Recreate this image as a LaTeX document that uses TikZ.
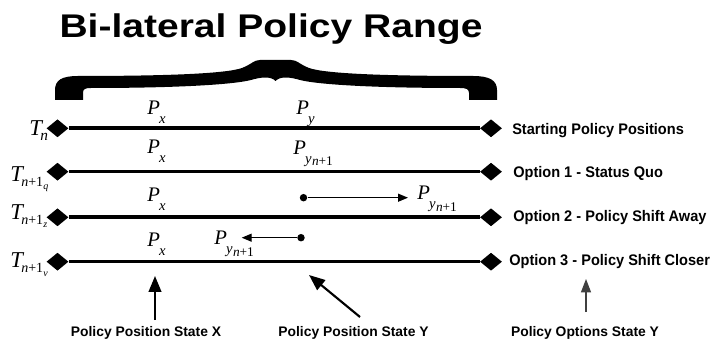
\documentclass[tikz,border=0pt]{standalone}
\usepackage{fontspec}
\setmainfont{Liberation Serif}
\newfontfamily\titlefont[FakeStretch=1.19]{Liberation Sans}
\newfontfamily\labfont[FakeStretch=0.95]{Liberation Sans}
\newfontfamily\botfont{Liberation Sans}
\usetikzlibrary{shapes.geometric,arrows.meta}
% subscript helpers
\newcommand\psb[1]{\kern-0.6pt\raisebox{-6.5pt}{\fontsize{11}{12}\selectfont\itshape #1}}
\newcommand\pyn{\kern-0.6pt\raisebox{-6.5pt}{\fontsize{11}{12}\selectfont\itshape y\kern0.3pt\raisebox{-2pt}{\fontsize{10}{11}\selectfont n\upshape+1}}}
\newcommand\tsb[1]{\kern-1.2pt\raisebox{-3.5pt}{\fontsize{11.5}{12}\selectfont\itshape #1}}
\newcommand\tsbb[1]{\kern-1.2pt\raisebox{-3.5pt}{\fontsize{10.5}{12}\selectfont\itshape n\upshape+1\kern0.2pt\raisebox{-2.5pt}{\fontsize{7.5}{8}\selectfont\itshape #1}}}
\begin{document}
\begin{tikzpicture}[x=0.75pt,y=-0.75pt,
  dia/.style={diamond,fill=black,inner sep=0pt,minimum width=16.5pt,minimum height=13.5pt},
  bar/.style={line width=2.7pt},
  tlab/.style={anchor=base west,inner sep=0pt,font=\fontsize{17}{20}\selectfont\itshape},
  plab/.style={anchor=base west,inner sep=0pt,font=\fontsize{15.5}{18}\selectfont\itshape},
  rlab/.style={anchor=base west,inner sep=0pt,font=\labfont\bfseries\fontsize{11.5}{13}\selectfont},
  blab/.style={anchor=base,inner sep=0pt,font=\botfont\bfseries\fontsize{10.4}{12}\selectfont},
  pdot/.style={circle,fill=black,inner sep=0pt,minimum size=5.6pt},
  movearrow/.style={line width=0.9pt,-{Triangle[length=7.5pt,width=6pt]}},
  bigarrow/.style={line width=1.6pt,-{Triangle[length=12pt,width=9.5pt]}},
  thinarrow/.style={line width=0.8pt,draw=black!75,-{Triangle[length=10pt,width=7.5pt]}},
  ttl/.style={anchor=base,inner sep=0pt,font=\titlefont\bfseries\fontsize{24.6}{28}\selectfont}
]
\fill[white] (0,0) rectangle (712,341);
\useasboundingbox (0,0) rectangle (712,341);

% title
\node[ttl] (title) at (271,38) {Bi-lateral Policy Range};

% brace
\fill[black] (55,100) -- (55,90) .. controls (55,80) and (62,76) .. (78,76)
  .. controls (160,76) and (225,74) .. (242,68)
  .. controls (252,64) and (254,60) .. (260,60)
  -- (291,60)
  .. controls (297,60) and (299,64) .. (309,68)
  .. controls (326,74) and (391,76) .. (473,76)
  .. controls (489,76) and (497,80) .. (497,90)
  -- (497,100) -- (469,100) -- (469,93)
  .. controls (469,89) and (466,88) .. (460,88)
  .. controls (380,88) and (320,85) .. (300,80)
  .. controls (290,77) and (280,76) .. (275.5,81)
  .. controls (271,76) and (261,77) .. (251,80)
  .. controls (231,85) and (171,88) .. (91,88)
  .. controls (85,88) and (83,89) .. (83,93)
  -- (83,100) -- cycle;

% rows
\foreach \i/\yy in {1/128.3,2/171.7,3/217.3,4/261.7}{
  \node[dia] (L\i) at (57.5,\yy) {};
  \node[dia] (R\i) at (491,\yy) {};
  \draw[bar] (L\i) -- (R\i);
}

% T labels
\node[tlab] (T1) at (29,136) {T\tsb{n}};
\node[tlab] (T2) at (10,182) {T\tsbb{q}};
\node[tlab] (T3) at (10,220) {T\tsbb{z}};
\node[tlab] (T4) at (10,268) {T\tsbb{v}};

% P labels
\node[plab] (px1) at (147,115) {P\psb{x}};
\node[plab] (py1) at (296,115) {P\psb{y}};
\node[plab] (px2) at (147,153.5) {P\psb{x}};
\node[plab] (py2) at (293,154.5) {P\pyn};
\node[plab] (px3) at (147,201.5) {P\psb{x}};
\node[plab] (py3) at (417,200) {P\pyn};
\node[plab] (px4) at (147,246.5) {P\psb{x}};
\node[plab] (py4) at (214,245) {P\pyn};

% shift arrows
\node[pdot] (d3) at (303.5,197.7) {};
\coordinate (e3) at (408,197.7);
\draw[movearrow] (d3) -- (e3);
\node[pdot] (d4) at (301,237.7) {};
\coordinate (e4) at (241.7,237.7);
\draw[movearrow] (d4) -- (e4);

% right labels
\node[rlab] (o1) at (512,135) {Starting Policy Positions};
\node[rlab] (o2) at (513,178) {Option 1 - Status Quo};
\node[rlab] (o3) at (513,221.7) {Option 2 - Policy Shift Away};
\node[rlab] (o4) at (509,265.7) {Option 3 - Policy Shift Closer};

% bottom labels
\node[blab] (bx) at (146,336.5) {Policy Position State X};
\node[blab] (by) at (353.5,336.5) {Policy Position State Y};
\node[blab] (bo) at (585,336.5) {Policy Options State Y};

% bottom arrows
\coordinate (ax0) at (155,320);
\coordinate (ax1) at (155,276);
\draw[bigarrow] (ax0) -- (ax1);
\coordinate (ay0) at (360,317);
\coordinate (ay1) at (309,275);
\draw[bigarrow] (ay0) -- (ay1);
\coordinate (ao0) at (586,312);
\coordinate (ao1) at (586,279);
\draw[thinarrow] (ao0) -- (ao1);
\end{tikzpicture}
\end{document}
